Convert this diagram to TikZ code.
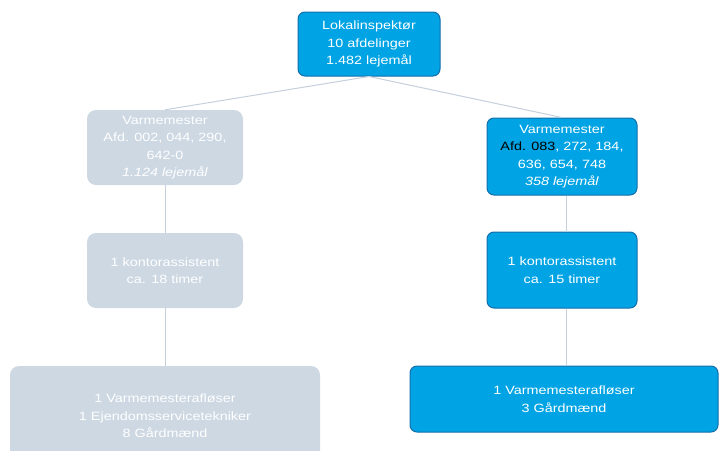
\documentclass[tikz,border=0pt]{standalone}
\usepackage{fontspec}
\setmainfont{Liberation Sans}[FakeStretch=1.2]
\definecolor{bluefill}{RGB}{0,164,228}
\definecolor{blueedge}{RGB}{20,110,170}
\definecolor{grayfill}{RGB}{205,216,227}
\definecolor{linecol}{RGB}{196,208,220}
\begin{document}
\begin{tikzpicture}[x=1pt,y=-1pt,
  bluebox/.style={draw=blueedge,line width=1pt,fill=bluefill,rounded corners=7pt,text=white,align=center,font=\fontsize{12}{17.5}\selectfont,inner sep=0pt},
  graybox/.style={fill=grayfill,rounded corners=9pt,text=white,align=center,font=\fontsize{12}{17.5}\selectfont,inner sep=0pt},
  conn/.style={draw=linecol,line width=1pt}]
\useasboundingbox (0,0) rectangle (720,450);
\node[bluebox,minimum width=142pt,minimum height=64pt] (top) at (369,44) {Lokalinspektør\\10 afdelinger\\1.482 lejemål};
\node[graybox,minimum width=156pt,minimum height=75pt] (lv) at (165,147.5) {Varmemester\\Afd. 002, 044, 290,\\642-0\\\textit{1.124 lejemål}};
\node[bluebox,minimum width=150pt,minimum height=77pt] (rv) at (562,156.5) {Varmemester\\\textcolor{black}{Afd. 083}, 272, 184,\\636, 654, 748\\\textit{358 lejemål}};
\node[graybox,minimum width=156pt,minimum height=75pt] (lk) at (165,270.5) {1 kontorassistent\\ca. 18 timer};
\node[bluebox,minimum width=150pt,minimum height=76pt] (rk) at (562,270) {1 kontorassistent\\ca. 15 timer};
\node[graybox,minimum width=310pt,minimum height=100pt] (lb) at (165,416) {1 Varmemesterafløser\\1 Ejendomsservicetekniker\\8 Gårdmænd};
\node[bluebox,minimum width=308pt,minimum height=66pt] (rb) at (564,399) {1 Varmemesterafløser\\3 Gårdmænd};
\draw[conn] (top.south) -- (lv.north);
\draw[conn] (top.south) -- (rv.north);
\draw[conn] (lv.south) -- (lk.north);
\draw[conn] (lk.south) -- (lb.north);
\draw[conn] ([xshift=4pt]rv.south) -- ([xshift=4pt]rk.north);
\draw[conn] ([xshift=4pt]rk.south) -- ([xshift=2pt]rb.north);
\end{tikzpicture}
\end{document}
